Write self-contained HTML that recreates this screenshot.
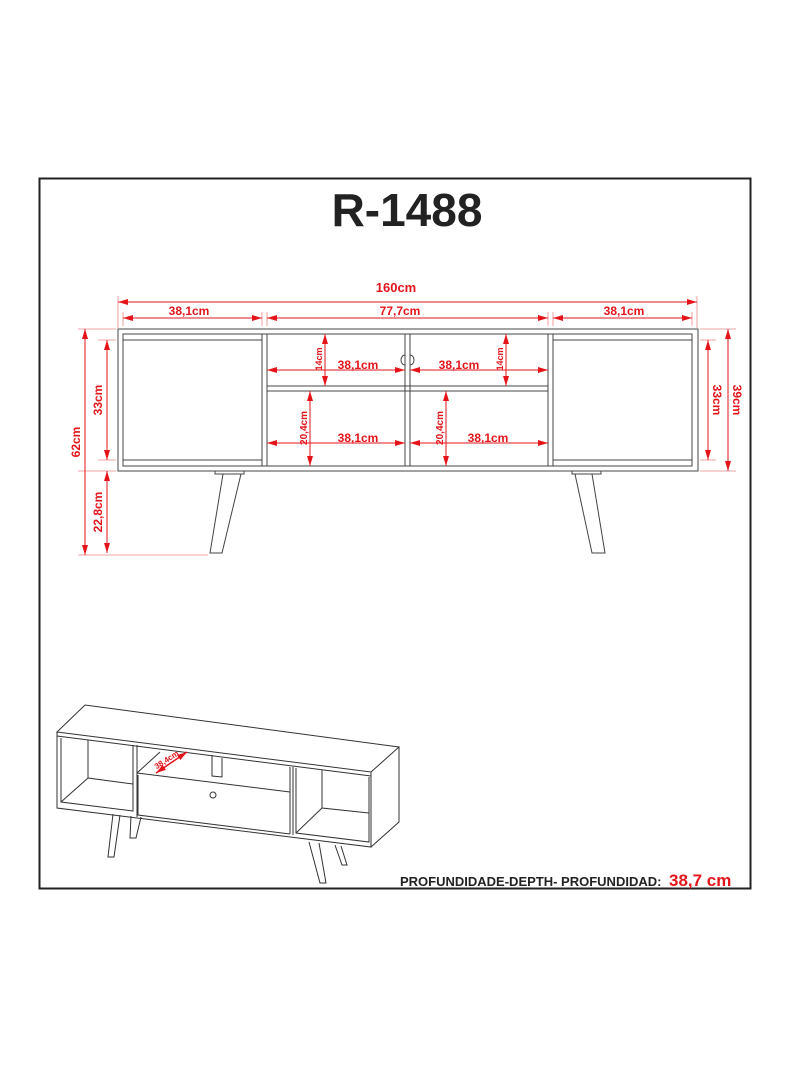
<!DOCTYPE html>
<html><head><meta charset="utf-8"><style>
html,body{margin:0;padding:0;background:#fff;}
svg{display:block;}
text{font-family:"Liberation Sans",Arial,sans-serif;font-weight:bold;}
</style></head><body>
<svg width="790" height="1068" viewBox="0 0 790 1068" xmlns="http://www.w3.org/2000/svg">
<defs>
<marker id="a" markerWidth="10" markerHeight="6" refX="10" refY="3" orient="auto-start-reverse" markerUnits="userSpaceOnUse"><path d="M0,0 L10,3 L0,6 Z" fill="#e3151b"/></marker>
</defs>
<rect x="39.5" y="178.5" width="711" height="710" fill="none" stroke="#222" stroke-width="2"/>
<text x="407" y="226" font-size="46" text-anchor="middle" fill="#222">R-1488</text>

<g fill="none" stroke="#444" stroke-width="1">
<rect x="118" y="329" width="580" height="142"/>
<rect x="123" y="334" width="569" height="132"/>
<line x1="123" y1="340" x2="262" y2="340"/><line x1="123" y1="460" x2="262" y2="460"/>
<line x1="553" y1="340" x2="692" y2="340"/><line x1="553" y1="460" x2="692" y2="460"/>
<line x1="262" y1="334" x2="262" y2="466"/><line x1="267" y1="334" x2="267" y2="466"/>
<line x1="405" y1="334" x2="405" y2="466"/><line x1="410" y1="334" x2="410" y2="466"/>
<line x1="548" y1="334" x2="548" y2="466"/><line x1="553" y1="334" x2="553" y2="466"/>
<rect x="267" y="386" width="281" height="5"/>
<path d="M405,355 a4,5 0 0 0 0,10 M410,355 a4,5 0 0 1 0,10"/>
<rect x="215" y="471" width="29" height="3"/>
<path d="M223,474 L210,553 L222,553 L241,474"/>
<rect x="572" y="471" width="29" height="3"/>
<path d="M575,474 L592,553 L605,553 L592,474"/>
</g>

<g stroke="#e88" stroke-width="0.8">
<line x1="118" y1="296" x2="118" y2="328"/><line x1="697" y1="296" x2="697" y2="328"/>
<line x1="123" y1="312" x2="123" y2="326"/><line x1="262" y1="312" x2="262" y2="326"/>
<line x1="267" y1="312" x2="267" y2="326"/><line x1="548" y1="312" x2="548" y2="326"/>
<line x1="553" y1="312" x2="553" y2="326"/><line x1="692" y1="312" x2="692" y2="326"/>
<line x1="78" y1="329" x2="116" y2="329"/><line x1="98" y1="340" x2="116" y2="340"/>
<line x1="98" y1="460" x2="116" y2="460"/><line x1="78" y1="471" x2="116" y2="471"/>
<line x1="78" y1="555" x2="208" y2="555"/>
<line x1="700" y1="329" x2="736" y2="329"/><line x1="700" y1="340" x2="716" y2="340"/>
<line x1="700" y1="460" x2="716" y2="460"/><line x1="700" y1="471" x2="736" y2="471"/>
</g>
<g stroke="#e3151b" stroke-width="1" marker-start="url(#a)" marker-end="url(#a)">
<line x1="118" y1="302" x2="697" y2="302"/>
<line x1="123" y1="318" x2="262" y2="318"/>
<line x1="267" y1="318" x2="548" y2="318"/>
<line x1="553" y1="318" x2="692" y2="318"/>
<line x1="85" y1="329" x2="85" y2="555"/>
<line x1="107" y1="340" x2="107" y2="460"/>
<line x1="107" y1="471" x2="107" y2="553"/>
<line x1="708" y1="340" x2="708" y2="460"/>
<line x1="728" y1="329" x2="728" y2="471"/>
<line x1="325" y1="334" x2="325" y2="386"/>
<line x1="267" y1="370" x2="405" y2="370"/>
<line x1="310" y1="391" x2="310" y2="466"/>
<line x1="267" y1="443" x2="405" y2="443"/>
<line x1="506" y1="334" x2="506" y2="386"/>
<line x1="410" y1="370" x2="548" y2="370"/>
<line x1="446" y1="391" x2="446" y2="466"/>
<line x1="410" y1="443" x2="548" y2="443"/>
</g>
<g fill="#e3151b" font-size="12">
<text x="396" y="292" text-anchor="middle" font-size="13">160cm</text>
<text x="189" y="315" text-anchor="middle">38,1cm</text>
<text x="400" y="315" text-anchor="middle">77,7cm</text>
<text x="624" y="315" text-anchor="middle">38,1cm</text>
<text x="358" y="369" text-anchor="middle">38,1cm</text>
<text x="459" y="369" text-anchor="middle">38,1cm</text>
<text x="358" y="442" text-anchor="middle">38,1cm</text>
<text x="488" y="442" text-anchor="middle">38,1cm</text>
<text transform="translate(80,442) rotate(-90)" text-anchor="middle">62cm</text>
<text transform="translate(102,400) rotate(-90)" text-anchor="middle">33cm</text>
<text transform="translate(102,512) rotate(-90)" text-anchor="middle">22,8cm</text>
<text transform="translate(713,400) rotate(90)" text-anchor="middle">33cm</text>
<text transform="translate(733,400) rotate(90)" text-anchor="middle">39cm</text>
<text transform="translate(322,359) rotate(-90)" text-anchor="middle" font-size="9">14cm</text>
<text transform="translate(503,359) rotate(-90)" text-anchor="middle" font-size="9">14cm</text>
<text transform="translate(307,428) rotate(-90)" text-anchor="middle" font-size="10">20,4cm</text>
<text transform="translate(443,428) rotate(-90)" text-anchor="middle" font-size="10">20,4cm</text>
</g>

<g fill="none" stroke="#333" stroke-width="1">
<path d="M57,732 L85,705 L399,747 L371,772 Z"/>
<path d="M57,732 L57,808 L371,847 L371,772"/>
<path d="M57,736 L371,776"/>
<path d="M371,847 L399,822 L399,747"/>
<path d="M61,738 L61,802 L133,811 L133,745"/>
<path d="M88,740 L88,778 L133,784 M61,802 L88,778"/>
<path d="M137,745 L137,817 M290,767 L290,834 M293,767 L293,835"/>
<path d="M137,773 L290,792 M138,775 L138,815 L290,834 M137,773 L160,752 M212,755 L212,776 L222,777 L222,758"/>
<path d="M296,768 L296,833 L369,842 L369,777"/>
<path d="M322,770 L322,808 L369,813 M296,833 L322,808"/>
<circle cx="213" cy="795" r="3"/>
<path d="M113,814 L108,857 L114,857 L120,815 M131,816 L130,838 L136,838 L141,817"/>
<path d="M309,842 L320,883 L326,883 L319,843 M335,845 L342,865 L347,865 L341,846"/>
</g>
<line x1="156" y1="773" x2="187" y2="752" stroke="#e3151b" stroke-width="1.5" marker-start="url(#a)" marker-end="url(#a)"/>
<text transform="translate(168,762) rotate(-33)" fill="#e3151b" font-size="8" text-anchor="middle">38,4cm</text>

<text x="400" y="886" font-size="13" fill="#222">PROFUNDIDADE-DEPTH- PROFUNDIDAD:</text>
<text x="669" y="886" font-size="17" fill="#e3151b">38,7 cm</text>
</svg>
</body></html>
